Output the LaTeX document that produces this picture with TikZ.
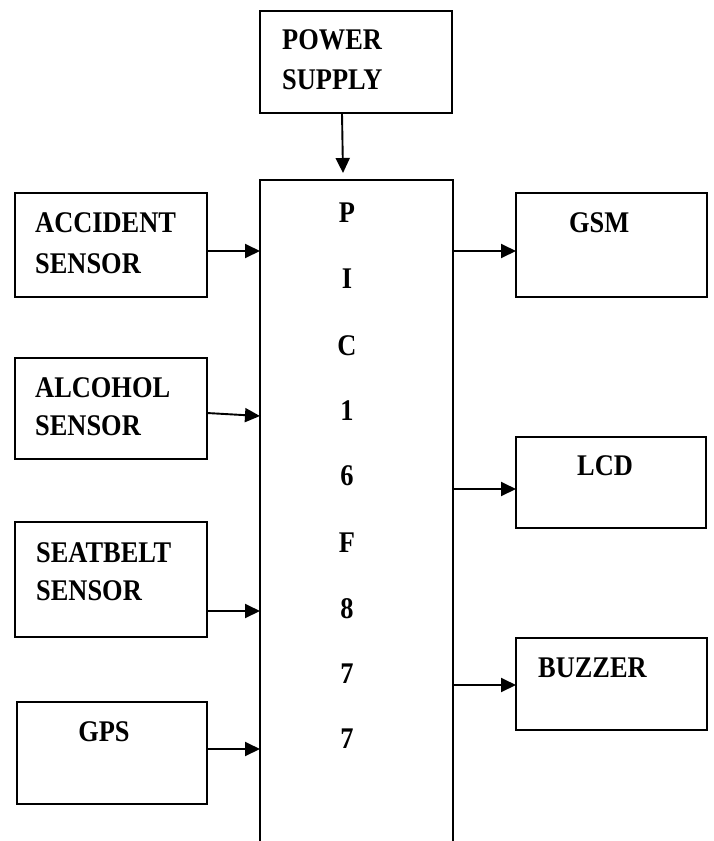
\documentclass[tikz,border=0pt]{standalone}
\usepackage{fontspec}
\setmainfont{Liberation Serif}[FakeStretch=0.88]
\usetikzlibrary{arrows.meta}
\begin{document}
\begin{tikzpicture}[x=1pt,y=-1pt,
  box/.style={draw, line width=1.4pt, rectangle, inner sep=0pt, outer sep=0pt, anchor=north west},
  lbl/.style={inner sep=0pt, anchor=base west, font=\fontsize{30}{36}\selectfont\bfseries},
  chip/.style={inner sep=0pt, anchor=base, font=\fontsize{30}{36}\selectfont\bfseries},
  arr/.style={line width=1.9pt, -{Triangle[length=15pt,width=14pt]}}]
\useasboundingbox (0,0) rectangle (713,841);
\clip (0,0) rectangle (713,841);
\fill[white] (0,0) rectangle (713,841);
% boxes
\node[box, minimum width=192pt, minimum height=102pt] (power) at (260,11) {};
\node[box, minimum width=193pt, minimum height=720pt] (pic) at (260,180) {};
\node[box, minimum width=192pt, minimum height=104pt] (acc) at (15,193) {};
\node[box, minimum width=192pt, minimum height=101pt] (alc) at (15,358) {};
\node[box, minimum width=192pt, minimum height=115pt] (seat) at (15,522) {};
\node[box, minimum width=190pt, minimum height=102pt] (gps) at (17,702) {};
\node[box, minimum width=191pt, minimum height=104pt] (gsm) at (516,193) {};
\node[box, minimum width=190pt, minimum height=91pt] (lcd) at (516,437) {};
\node[box, minimum width=191pt, minimum height=92pt] (buzz) at (516,638) {};
% labels
\node[lbl] (powerA) at (282,49) {POWER};
\node[lbl] (powerB) at (282,89) {SUPPLY};
\node[lbl] (accA) at (35,232) {ACCIDENT};
\node[lbl] (accB) at (35,273) {SENSOR};
\node[lbl] (alcA) at (35,397) {ALCOHOL};
\node[lbl] (alcB) at (35,435) {SENSOR};
\node[lbl] (seatA) at (36,562) {SEATBELT};
\node[lbl] (seatB) at (36,600) {SENSOR};
\node[chip] (gpsT) at (104,741) {GPS};
\node[lbl] (gsmT) at (569,232) {GSM};
\node[lbl] (lcdT) at (577,475) {LCD};
\node[lbl] (buzzT) at (538,677) {BUZZER};
% PIC letters
\node[chip] (p1) at (347,222) {P};
\node[chip] (p2) at (347,288) {I};
\node[chip] (p3) at (347,355) {C};
\node[chip] (p4) at (347,420) {1};
\node[chip] (p5) at (347,485) {6};
\node[chip] (p6) at (347,552) {F};
\node[chip] (p7) at (347,618) {8};
\node[chip] (p8) at (347,683) {7};
\node[chip] (p9) at (347,748) {7};
% connectors
\draw[arr] ([xshift=-14pt]power.south) -- ([xshift=-13.5pt,yshift=7pt]pic.north);
\draw[arr] ([yshift=-6pt]acc.east) -- ([yshift=-6pt]acc.east -| pic.west);
\draw[arr] ([yshift=-4.5pt]alc.east) -- ([yshift=-7.5pt]alc.east -| pic.west);
\draw[arr] ([yshift=-31.5pt]seat.east) -- ([yshift=-31.5pt]seat.east -| pic.west);
\draw[arr] ([yshift=4pt]gps.east) -- ([yshift=4pt]gps.east -| pic.west);
\draw[arr] ([yshift=-6pt]gsm.west -| pic.east) -- ([yshift=-6pt]gsm.west);
\draw[arr] ([yshift=-6.5pt]lcd.west -| pic.east) -- ([yshift=-6.5pt]lcd.west);
\draw[arr] ([yshift=-1pt]buzz.west -| pic.east) -- ([yshift=-1pt]buzz.west);
\end{tikzpicture}
\end{document}
